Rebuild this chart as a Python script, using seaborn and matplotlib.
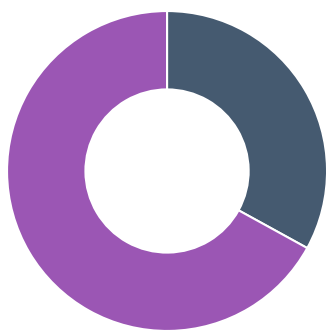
import matplotlib
matplotlib.use("Agg")
import matplotlib.pyplot as plt
import seaborn as sns

# Two-part share shown as a donut
labels = ["Group A", "Group B"]
shares = [33, 67]
colors = ["#455a70", "#9b56b4"]

sns.set_theme(style="white")

fig = plt.figure(figsize=(3.28, 3.30), dpi=100)
ax = fig.add_axes([0, 0, 1, 1])
ax.pie(
    shares,
    labels=None,
    colors=colors,
    startangle=90,
    counterclock=False,
    radius=1.0,
    wedgeprops=dict(width=0.49, edgecolor="white", linewidth=1.5),
)
ax.set_aspect("auto")
ax.set_xlim(-1.044, 1.006)
ax.set_ylim(-0.994, 1.069)
ax.axis("off")
fig.savefig("out.png", dpi=100, facecolor="white")
